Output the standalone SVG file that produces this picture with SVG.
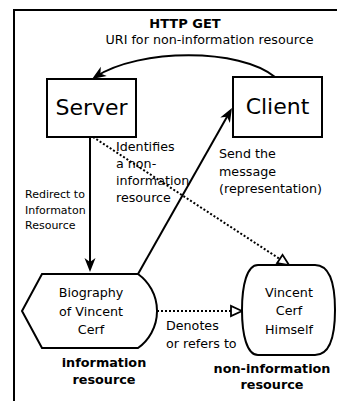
<svg xmlns="http://www.w3.org/2000/svg" width="337" height="401" viewBox="0 0 337 401">
<style>
  .shape { fill: #ffffff; stroke: #000000; stroke-width: 2; }
  .line { fill: none; stroke: #000000; stroke-width: 2; }
  .dot { fill: none; stroke: #000000; stroke-width: 2; stroke-dasharray: 2,2; }
  text { font-family: "DejaVu Sans", "Liberation Sans", sans-serif; fill: #000000; }
  .big { font-size: 22px; text-anchor: middle; }
  .lbl { font-size: 12.7px; }
  .mid { text-anchor: middle; }
  .small { font-size: 11px; }
  .bold { font-weight: bold; font-size: 12.8px; text-anchor: middle; }
</style>
<defs>
  <marker id="arrow" markerUnits="userSpaceOnUse" viewBox="-10 -7 15 14" refX="0" refY="0" markerWidth="15" markerHeight="14" orient="auto" overflow="visible">
    <path d="M4,0 L-10,-5.5 L-6,0 L-10,5.5 Z" fill="#000000"/>
  </marker>
  <marker id="hollow" markerUnits="userSpaceOnUse" viewBox="-2 -7 15 14" refX="0" refY="0" markerWidth="15" markerHeight="14" orient="auto" overflow="visible">
    <path d="M11,0 L0,-5 L0,5 Z" fill="#ffffff" stroke="#000000" stroke-width="1.8" stroke-linejoin="miter"/>
  </marker>
</defs>
<rect width="337" height="401" fill="#ffffff"/>
<g id="frame">
  <path d="M14,401 L14,10 L337,10" class="line"/>
</g>
<g id="title">
  <text x="185" y="28" class="bold" style="font-size:13px">HTTP GET</text>
  <text x="209.5" y="43.5" class="lbl mid">URI for non-information resource</text>
</g>
<g id="connectors">
  <path d="M275,77 C240,48 140,48 95.4,76.8" class="line" marker-end="url(#arrow)"/>
  <path d="M90,137 L90,268" class="line" marker-end="url(#arrow)"/>
  <path d="M138,274 L230,111.5" class="line" marker-end="url(#arrow)"/>
  <path d="M93,137 L279.8,259" class="dot" marker-end="url(#hollow)"/>
  <path d="M157,311 L231,311" class="dot" marker-end="url(#hollow)"/>
</g>
<g id="server">
  <rect x="47" y="79" width="89" height="58" class="shape"/>
  <text x="91.5" y="115" class="big">Server</text>
</g>
<g id="client">
  <rect x="233" y="77" width="89" height="60" class="shape"/>
  <text x="277.5" y="114" class="big">Client</text>
</g>
<g id="biography">
  <path d="M42,274 L138,274 A45.5,45.5 0 0 1 138,348 L42,348 L22,311 Z" class="shape"/>
  <text x="91" y="297" class="lbl mid">Biography</text>
  <text x="91" y="315.5" class="lbl mid">of Vincent</text>
  <text x="91" y="334" class="lbl mid">Cerf</text>
</g>
<g id="vincent">
  <path d="M258,265 L315,265 C330,265 335,285 335,310 C335,335 330,355 315,355 L258,355 C247,355 242,335 242,310 C242,285 247,265 258,265 Z" class="shape"/>
  <text x="289" y="297" class="lbl mid">Vincent</text>
  <text x="289" y="315" class="lbl mid">Cerf</text>
  <text x="289" y="333.5" class="lbl mid">Himself</text>
</g>
<g id="labels">
  <text x="25" y="198.3" class="small">Redirect to</text>
  <text x="25" y="213.6" class="small">Informaton</text>
  <text x="25" y="229" class="small">Resource</text>
  <text x="116" y="150.8" class="lbl">Identifies</text>
  <text x="116" y="168" class="lbl">a non-</text>
  <text x="116" y="185.2" class="lbl">information</text>
  <text x="116" y="202.4" class="lbl">resource</text>
  <text x="219" y="158.3" class="lbl">Send the</text>
  <text x="219" y="175.5" class="lbl">message</text>
  <text x="219" y="192.7" class="lbl">(representation)</text>
  <text x="166" y="330.3" class="lbl">Denotes</text>
  <text x="166" y="348" class="lbl">or refers to</text>
  <text x="104" y="367" class="bold">information</text>
  <text x="104" y="384.3" class="bold">resource</text>
  <text x="272" y="372.7" class="bold">non-information</text>
  <text x="272" y="389" class="bold">resource</text>
</g>
</svg>
